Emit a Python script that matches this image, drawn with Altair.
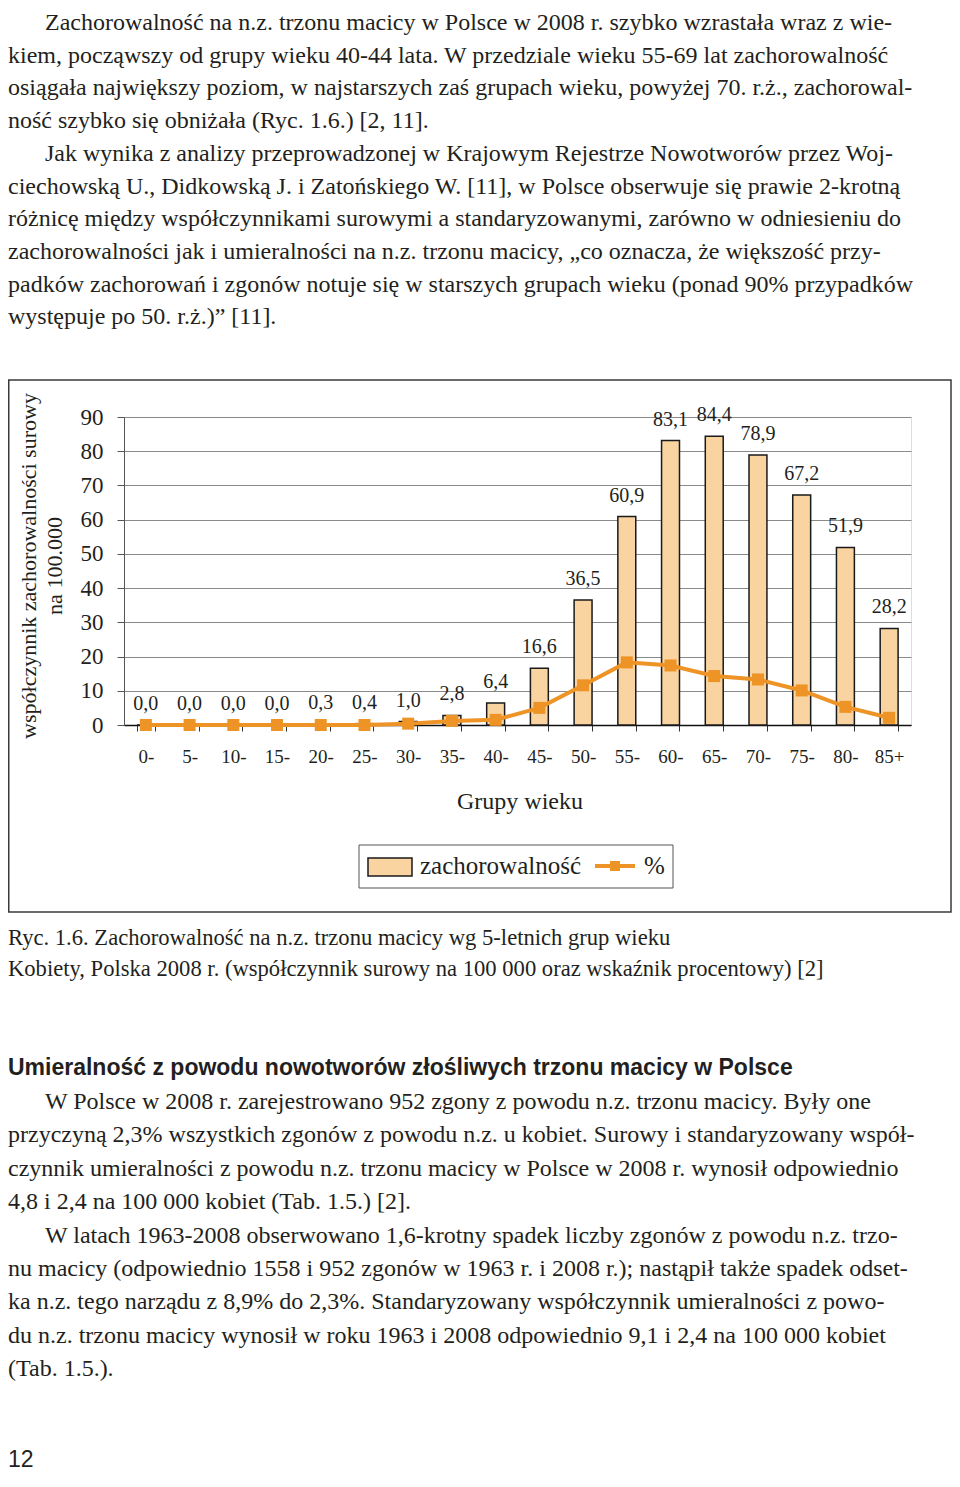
import altair as alt
import pandas as pd

# ---------------- data ----------------
age_groups = ["0-", "5-", "10-", "15-", "20-", "25-", "30-", "35-", "40-", "45-",
              "50-", "55-", "60-", "65-", "70-", "75-", "80-", "85+"]
incidence = [0.0, 0.0, 0.0, 0.0, 0.3, 0.4, 1.0, 2.8, 6.4, 16.6,
             36.5, 60.9, 83.1, 84.4, 78.9, 67.2, 51.9, 28.2]
percent = [0.0, 0.0, 0.0, 0.0, 0.0, 0.0, 0.4, 1.2, 1.5, 5.0,
           11.6, 18.3, 17.4, 14.3, 13.3, 10.1, 5.3, 2.1]
y_ticks = [0, 10, 20, 30, 40, 50, 60, 70, 80, 90]

y_title_lines = ["współczynnik zachorowalności surowy", "na 100.000"]
x_title = "Grupy wieku"
legend_labels = ["zachorowalność", "%"]

top_text = [
    "Zachorowalność na n.z. trzonu macicy w Polsce w 2008 r. szybko wzrastała wraz z wie-",
    "kiem, począwszy od grupy wieku 40-44 lata. W przedziale wieku 55-69 lat zachorowalność",
    "osiągała największy poziom, w najstarszych zaś grupach wieku, powyżej 70. r.ż., zachorowal-",
    "ność szybko się obniżała (Ryc. 1.6.) [2, 11].",
    "Jak wynika z analizy przeprowadzonej w Krajowym Rejestrze Nowotworów przez Woj-",
    "ciechowską U., Didkowską J. i Zatońskiego W. [11], w Polsce obserwuje się prawie 2-krotną",
    "różnicę między współczynnikami surowymi a standaryzowanymi, zarówno w odniesieniu do",
    "zachorowalności jak i umieralności na n.z. trzonu macicy, „co oznacza, że większość przy-",
    "padków zachorowań i zgonów notuje się w starszych grupach wieku (ponad 90% przypadków",
    "występuje po 50. r.ż.)” [11].",
]
top_indent = [0, 4]

caption_text = [
    "Ryc. 1.6. Zachorowalność na n.z. trzonu macicy wg 5-letnich grup wieku",
    "Kobiety, Polska 2008 r. (współczynnik surowy na 100 000 oraz wskaźnik procentowy) [2]",
]

heading_text = "Umieralność z powodu nowotworów złośliwych trzonu macicy w Polsce"

bottom_text = [
    "W Polsce w 2008 r. zarejestrowano 952 zgony z powodu n.z. trzonu macicy. Były one",
    "przyczyną 2,3% wszystkich zgonów z powodu n.z. u kobiet. Surowy i standaryzowany współ-",
    "czynnik umieralności z powodu n.z. trzonu macicy w Polsce w 2008 r. wynosił odpowiednio",
    "4,8 i 2,4 na 100 000 kobiet (Tab. 1.5.) [2].",
    "W latach 1963-2008 obserwowano 1,6-krotny spadek liczby zgonów z powodu n.z. trzo-",
    "nu macicy (odpowiednio 1558 i 952 zgonów w 1963 r. i 2008 r.); nastąpił także spadek odset-",
    "ka n.z. tego narządu z 8,9% do 2,3%. Standaryzowany współczynnik umieralności z powo-",
    "du n.z. trzonu macicy wynosił w roku 1963 i 2008 odpowiednio 9,1 i 2,4 na 100 000 kobiet",
    "(Tab. 1.5.).",
]
bottom_indent = [0, 4]

page_number = "12"

# ---------------- styles / layout ----------------
SERIF = "Liberation Serif"
SANS = "Liberation Sans"
TXT = "#231F20"
BAR_FILL = "#F9D3A0"
LINE_C = "#EE9325"

# plot area origin in page coordinates
OX, OY = 124, 417
PW, PH = 787, 308
SVG_W, SVG_H = 944, 1466


def P(x, y):
    """page coordinates -> plot coordinates"""
    return x - OX, y - OY


df = pd.DataFrame({"grupa": age_groups, "zach": incidence, "proc": percent})
df["label"] = df["zach"].map(lambda v: f"{v:.1f}".replace(".", ","))

x_axis = alt.Axis(labelAngle=0, labelFont=SERIF, labelFontSize=19, labelColor=TXT,
                  labelBaseline="alphabetic", labelPadding=31, tickBand="extent",
                  tickSize=6, tickColor="#333333", tickWidth=1,
                  domainColor="#111111", domainWidth=1.5, grid=False, title=None)
y_axis = alt.Axis(values=y_ticks, labelFont=SERIF, labelFontSize=23, labelColor=TXT,
                  labelPadding=14, tickSize=7, tickColor="#555555", domainColor="#555555",
                  gridColor="#8a8a8a", gridWidth=1, labelOverlap=False, title=None)

xs = alt.Scale(paddingInner=0.59, paddingOuter=0.295)
ys = alt.Scale(domain=[0, 90], nice=False)


def X():
    return alt.X("grupa:N", sort=age_groups, scale=xs, axis=x_axis, title=None)


def Y(field):
    return alt.Y(field, scale=ys, axis=y_axis, title=None)


bars = alt.Chart(df).mark_bar(fill=BAR_FILL, stroke="#1a1a1a", strokeWidth=1.5).encode(
    x=X(), y=Y("zach:Q"))
bar_labels = alt.Chart(df).mark_text(font=SERIF, fontSize=20, color=TXT,
                                     baseline="alphabetic", dy=-15).encode(
    x=X(), y=Y("zach:Q"), text="label:N")
line = alt.Chart(df).mark_line(color=LINE_C, strokeWidth=4).encode(x=X(), y=Y("proc:Q"))
pts = alt.Chart(df).mark_square(color=LINE_C, size=144, opacity=1).encode(x=X(), y=Y("proc:Q"))
core = alt.layer(bars, line, pts, bar_labels)


def text_layer(lines, xs_, ys_, font, size, weight="normal"):
    d = pd.DataFrame({"t": lines, "px": xs_, "py": ys_})
    return alt.Chart(d).mark_text(font=font, fontSize=size, fontWeight=weight, align="left",
                                  baseline="alphabetic", color=TXT).encode(
        x=alt.X("px:Q", scale=None, axis=None),
        y=alt.Y("py:Q", scale=None, axis=None),
        text="t:N",
    )


LEFT, INDENT = 8, 45
top_x = [P(INDENT if i in top_indent else LEFT, 0)[0] for i in range(len(top_text))]
top_y = [P(0, 30 + i * 32.7)[1] for i in range(len(top_text))]
bot_x = [P(INDENT if i in bottom_indent else LEFT, 0)[0] for i in range(len(bottom_text))]
bot_y = [P(0, 1109 + i * 33.4)[1] for i in range(len(bottom_text))]
cap_x = [P(LEFT, 0)[0]] * len(caption_text)
cap_y = [P(0, 945 + i * 31)[1] for i in range(len(caption_text))]

t_top = text_layer(top_text, top_x, top_y, SERIF, 24)
t_bot = text_layer(bottom_text, bot_x, bot_y, SERIF, 24)
t_cap = text_layer(caption_text, cap_x, cap_y, SERIF, 22.6)
t_head = text_layer([heading_text], [P(LEFT, 0)[0]], [P(0, 1075)[1]], SANS, 23, "bold")
t_page = text_layer([page_number], [P(LEFT, 0)[0]], [P(0, 1467)[1]], SANS, 23)

one = pd.DataFrame({"k": [0]})

# frame around the figure
bx0, by0 = P(8.75, 380)
bx1, by1 = P(951, 912)
frame = alt.Chart(one).mark_rect(fillOpacity=0, stroke="#3a3a3a", strokeWidth=1.5).encode(
    x=alt.value(bx0), x2=alt.value(bx1), y=alt.value(by0), y2=alt.value(by1))

# y axis title (two rotated lines)
yt1 = alt.Chart(one).mark_text(text=y_title_lines[0], font=SERIF, fontSize=22, color=TXT,
                               angle=270, align="center", baseline="middle").encode(
    x=alt.value(P(29, 0)[0]), y=alt.value(P(0, 566)[1]))
yt2 = alt.Chart(one).mark_text(text=y_title_lines[1], font=SERIF, fontSize=22, color=TXT,
                               angle=270, align="center", baseline="middle").encode(
    x=alt.value(P(55, 0)[0]), y=alt.value(P(0, 566)[1]))

# x axis title
xt = alt.Chart(one).mark_text(text=x_title, font=SERIF, fontSize=24, color=TXT,
                              align="center", baseline="alphabetic").encode(
    x=alt.value(P(520, 0)[0]), y=alt.value(P(0, 809)[1]))

# legend
lx0, ly0 = P(359, 845)
lx1, ly1 = P(673, 888)
leg_box = alt.Chart(one).mark_rect(fillOpacity=0, stroke="#555555", strokeWidth=1).encode(
    x=alt.value(lx0), x2=alt.value(lx1), y=alt.value(ly0), y2=alt.value(ly1))
sx0, sy0 = P(368, 858)
sx1, sy1 = P(412, 876)
leg_sw = alt.Chart(one).mark_rect(fill=BAR_FILL, stroke="#1a1a1a", strokeWidth=1.5).encode(
    x=alt.value(sx0), x2=alt.value(sx1), y=alt.value(sy0), y2=alt.value(sy1))
leg_t1 = alt.Chart(one).mark_text(text=legend_labels[0], font=SERIF, fontSize=25, color=TXT,
                                  align="left", baseline="alphabetic").encode(
    x=alt.value(P(420, 0)[0]), y=alt.value(P(0, 874)[1]))
leg_line = alt.Chart(one).mark_rule(color=LINE_C, strokeWidth=4).encode(
    x=alt.value(P(595, 0)[0]), x2=alt.value(P(635, 0)[0]), y=alt.value(P(0, 866)[1]))
leg_pt = alt.Chart(one).mark_square(color=LINE_C, size=100, opacity=1).encode(
    x=alt.value(P(615, 0)[0]), y=alt.value(P(0, 866)[1]))
leg_t2 = alt.Chart(one).mark_text(text=legend_labels[1], font=SERIF, fontSize=25, color=TXT,
                                  align="left", baseline="alphabetic").encode(
    x=alt.value(P(644, 0)[0]), y=alt.value(P(0, 874)[1]))

chart = alt.layer(
    core, frame, yt1, yt2, xt, leg_box, leg_sw, leg_t1, leg_line, leg_pt, leg_t2,
    t_top, t_cap, t_head, t_bot, t_page,
).resolve_scale(x="independent", y="independent").properties(
    width=PW, height=PH,
    autosize=alt.AutoSizeParams(type="none"),
    padding={"left": OX - 8, "top": OY - 8,
             "right": SVG_W - (OX - 8) - PW, "bottom": SVG_H - (OY - 8) - PH},
).configure_view(stroke="#8a8a8a", strokeWidth=1).configure(background="white")

chart.save("out.html", embed_options={"renderer": "svg", "actions": False})
